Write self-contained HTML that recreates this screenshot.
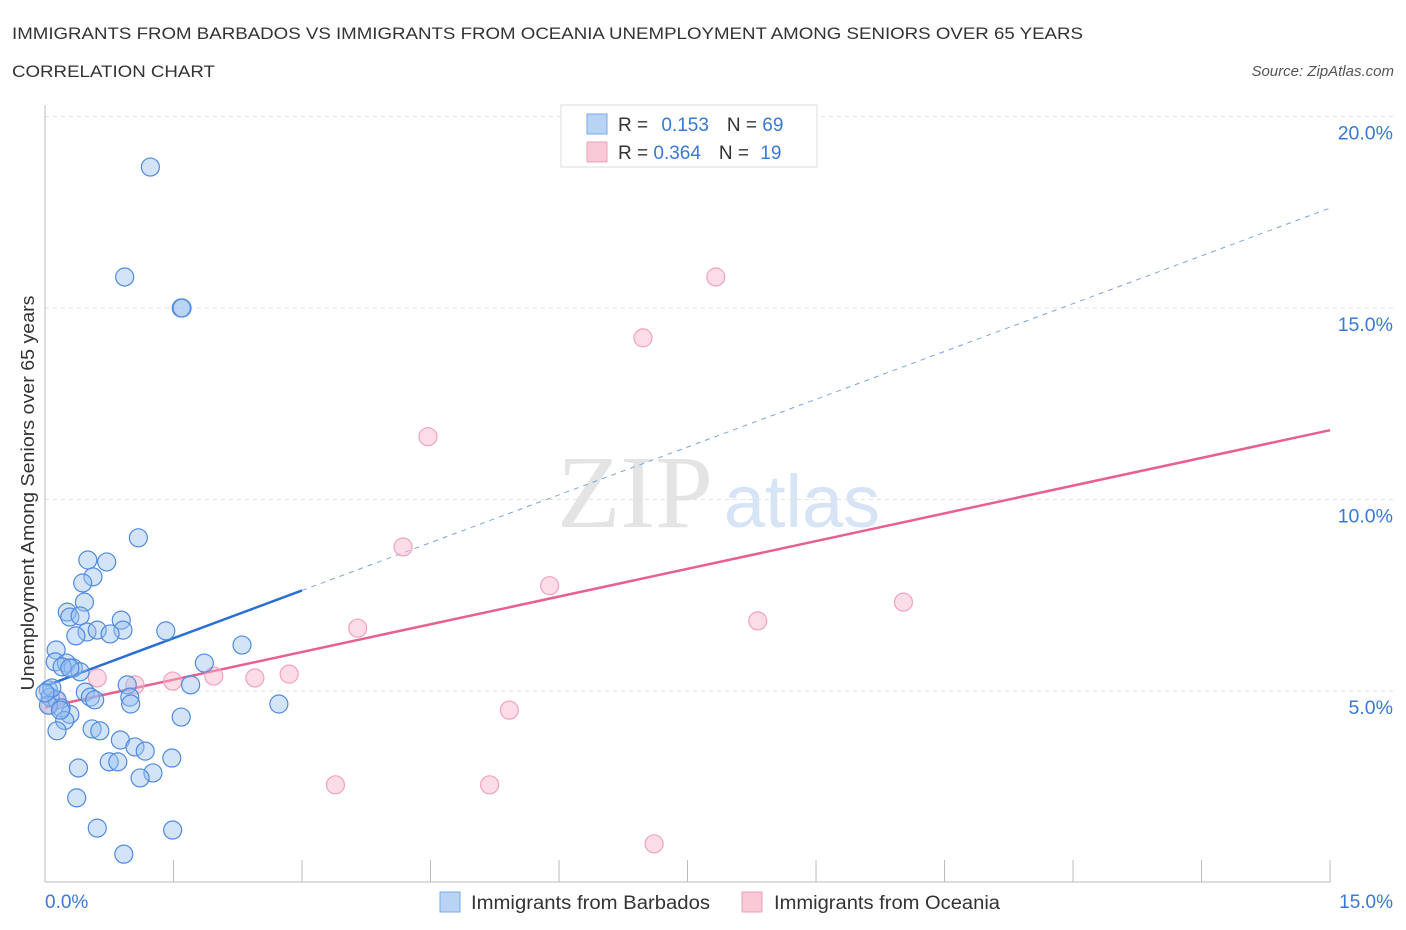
<!DOCTYPE html>
<html><head><meta charset="utf-8"><style>
body{margin:0;background:#fff;font-family:"Liberation Sans",sans-serif}
svg{display:block}
</style></head><body>
<svg width="1406" height="930" viewBox="0 0 1406 930">
<text x="12" y="39" font-size="17" fill="#333" textLength="1071" lengthAdjust="spacingAndGlyphs">IMMIGRANTS FROM BARBADOS VS IMMIGRANTS FROM OCEANIA UNEMPLOYMENT AMONG SENIORS OVER 65 YEARS</text>
<text x="12" y="77" font-size="17" fill="#333" textLength="203" lengthAdjust="spacingAndGlyphs">CORRELATION CHART</text>
<text x="1394" y="76" font-size="15" fill="#555" font-style="italic" text-anchor="end">Source: ZipAtlas.com</text>
<g>
<text x="635" y="527" font-size="104" fill="#e4e4e4" font-family="Liberation Serif,serif" text-anchor="middle">ZIP</text>
<text x="802" y="527" font-size="74" fill="#d6e4f5" text-anchor="middle">atlas</text>
</g>
<g id="grid"></g>
<g id="axes"></g>
<g id="lines"></g>
<g id="pts"></g>
<text transform="translate(34,493) rotate(-90)" font-size="18" fill="#333" text-anchor="middle" textLength="395" lengthAdjust="spacingAndGlyphs">Unemployment Among Seniors over 65 years</text>
<g>
<rect x="561" y="105" width="256" height="62" fill="#fff" stroke="#ddd"/>
<rect x="587" y="114" width="20" height="20" fill="#b9d3f5" stroke="#7aa8e8"/>
<rect x="587" y="142" width="20" height="20" fill="#f9c9d8" stroke="#f0a0b8"/>
<text x="618" y="131" font-size="19" fill="#333">R = <tspan fill="#3a78d8" dx="8">0.153</tspan><tspan dx="18" fill="#333">N = </tspan><tspan fill="#3a78d8">69</tspan></text>
<text x="618" y="159" font-size="19" fill="#333">R = <tspan fill="#3a78d8">0.364</tspan><tspan dx="18" fill="#333">N = </tspan><tspan fill="#3a78d8" dx="6">19</tspan></text>
</g>
<g>
<rect x="440" y="892" width="20" height="20" fill="#b9d3f5" stroke="#7aa8e8"/>
<text x="471" y="909" font-size="19" fill="#333" textLength="239" lengthAdjust="spacingAndGlyphs">Immigrants from Barbados</text>
<rect x="742" y="892" width="20" height="20" fill="#f9c9d8" stroke="#f0a0b8"/>
<text x="774" y="909" font-size="19" fill="#333" textLength="226" lengthAdjust="spacingAndGlyphs">Immigrants from Oceania</text>
</g>
</svg>
<script>
const blueX=[1.23,0.93,1.59,1.60,1.09,0.50,0.72,0.56,0.44,0.46,0.26,0.29,0.41,0.89,0.91,0.49,0.61,0.76,0.36,1.41,2.30,0.13,0.12,0.25,0.33,0.20,0.41,1.86,0.96,1.70,0.04,0.06,0.47,0.53,0.58,0.99,1.00,0.14,0.19,0.29,0.23,2.73,1.59,0.14,0.55,0.64,0.88,1.05,1.17,1.48,0.75,0.85,1.26,1.11,0.39,0.37,0.61,1.49,0.92,0.04,0.08,0.18,0.0,0.29];
const blueY=[18.68,15.81,15.0,15.0,9.0,8.42,8.37,7.98,7.82,7.32,7.06,6.93,6.96,6.85,6.59,6.54,6.59,6.49,6.44,6.57,6.20,6.07,5.76,5.73,5.60,5.63,5.50,5.73,5.16,5.16,5.03,4.84,4.97,4.84,4.77,4.84,4.66,4.77,4.56,4.39,4.23,4.66,4.32,3.96,4.01,3.96,3.72,3.54,3.43,3.25,3.15,3.15,2.86,2.73,2.99,2.21,1.42,1.37,0.74,4.63,5.08,4.50,4.95,5.60];
const pinkX=[7.83,6.98,4.47,4.18,5.89,10.02,8.32,3.65,2.85,2.45,1.97,1.49,1.05,0.61,5.42,3.39,5.19,7.11,0.12,0.06];
const pinkY=[15.81,14.22,11.64,8.76,7.75,7.32,6.83,6.64,5.44,5.34,5.39,5.26,5.16,5.34,4.50,2.55,2.55,1.01,4.77,4.63];
const blueTrend=[5.13,17.61]; const pinkTrend=[4.57,11.81];
const yTicks=[5,10,15,20]; const xTicks=[0,1.5,3,4.5,6,7.5,9,10.5,12,13.5,15];
const NS='http://www.w3.org/2000/svg';
const X=v=>45+v*85.67, Y=v=>882.5-v*38.3;
function mk(t,a,p){const e=document.createElementNS(NS,t);for(const k in a)e.setAttribute(k,a[k]);p.appendChild(e);return e;}
const g=document.getElementById('grid'),ax=document.getElementById('axes'),ln=document.getElementById('lines'),pt=document.getElementById('pts');
yTicks.forEach(v=>{
 const l=mk('line',{x1:45,x2:1395,y1:Y(v),y2:Y(v),stroke:'#e2e2e2','stroke-dasharray':'4,4'},g);
 
 
 const t=mk('text',{x:1393,y:Y(v)+23,'font-size':19.5,fill:'#3a78d8','text-anchor':'end'},g);
 t.textContent=v.toFixed(1)+'%';
 
 
});
const xa=mk('line',{x1:45,x2:1330,y1:882,y2:882,stroke:'#bbb'},ax);


const ya=mk('line',{x1:45,x2:45,y1:105,y2:882,stroke:'#bbb'},ax);


xTicks.forEach(v=>{
 const l=mk('line',{x1:X(v),x2:X(v),y1:860,y2:882,stroke:'#bbb'},ax);
 
 
});
[[0,'start'],[15,'end']].forEach(([v,a])=>{
 const t=mk('text',{x:v?1393:45,y:908,'font-size':19,fill:'#3a78d8','text-anchor':a},ax);
 t.textContent=v.toFixed(1)+'%';
 
 
});
const yb=x=>blueTrend[0]+(blueTrend[1]-blueTrend[0])*x/15, yp=x=>pinkTrend[0]+(pinkTrend[1]-pinkTrend[0])*x/15;
const bs=mk('line',{x1:X(0),y1:Y(yb(0)),x2:X(3),y2:Y(yb(3)),stroke:'#2a6fd6','stroke-width':2.5},ln);


const bd=mk('line',{x1:X(3),y1:Y(yb(3)),x2:X(15),y2:Y(yb(15)),stroke:'#7aa4e0','stroke-width':1,'stroke-dasharray':'5,5'},ln);


const pl=mk('line',{x1:X(0),y1:Y(yp(0)),x2:X(15),y2:Y(yp(15)),stroke:'#e8608e','stroke-width':2.5},ln);


pinkX.forEach((x,i)=>{
 const c=mk('circle',{cx:X(x),cy:Y(pinkY[i]),r:9,fill:'rgba(248,180,202,0.45)',stroke:'#f1a3bc','stroke-width':1.2},pt);
 
 
});
blueX.forEach((x,i)=>{
 const c=mk('circle',{cx:X(x),cy:Y(blueY[i]),r:9,fill:'rgba(150,190,240,0.42)',stroke:'#4f8ae0','stroke-width':1.2},pt);
 
 
});
</script>
</body></html>
